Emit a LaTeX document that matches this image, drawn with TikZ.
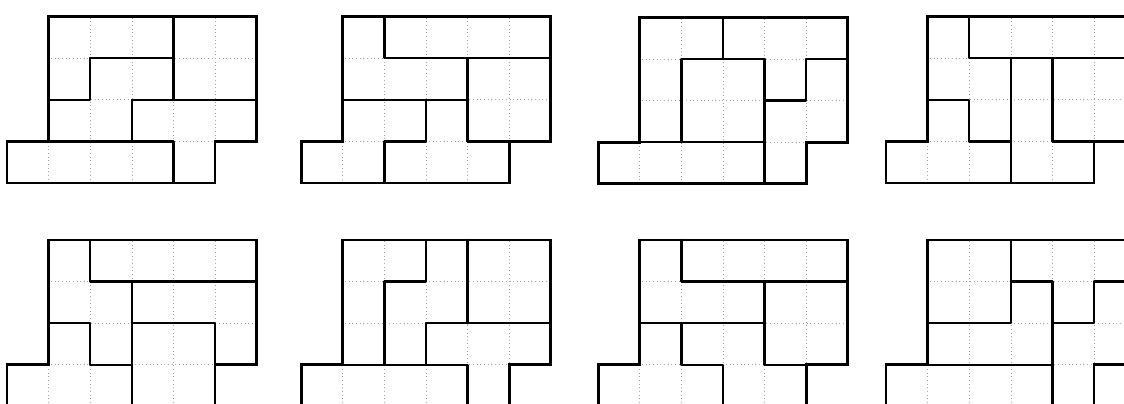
\documentclass[tikz,border=0pt]{standalone}
\usetikzlibrary{calc}

% staircase board: bottom row 0..5, upper rows 1..6
\newcommand{\stairboard}{%
  \begin{scope}
    \clip (0,0) -- (5,0) -- (5,1) -- (6,1) -- (6,4) -- (1,4) -- (1,1) -- (0,1) -- cycle;
    \draw[gridline] (0,0) grid (6,4);
  \end{scope}
  \draw[outline] (0,0) -- (5,0) -- (5,1) -- (6,1) -- (6,4) -- (1,4) -- (1,1) -- (0,1) -- cycle;
}

\begin{document}
\begin{tikzpicture}[
    outline/.style={draw=black, line width=1.9pt, line join=miter},
    piece/.style={draw=black, line width=1.6pt, line cap=round, line join=round},
    gridline/.style={draw=black!35, dotted, line width=0.5pt}
  ]
    \useasboundingbox (0,0) rectangle (27.02,9.688);
    \clip (0,0) rectangle (27.02,9.688);

    % top row
    \begin{scope}[shift={(0.17,5.29)}]
        \stairboard
        \draw[piece] (4,4) -- (4,2);
        \draw[piece] (1,2) -- (2,2) -- (2,3) -- (4,3);
        \draw[piece] (6,2) -- (3,2) -- (3,1);
        \draw[piece] (1,1) -- (4,1) -- (4,0);
    \end{scope}
    \begin{scope}[shift={(7.24,5.29)}]
        \stairboard
        \draw[piece] (2,4) -- (2,3) -- (6,3);
        \draw[piece] (1,2) -- (4,2);
        \draw[piece] (4,3) -- (4,1) -- (5,1);
        \draw[piece] (3,2) -- (3,1) -- (2,1) -- (2,0);
    \end{scope}
    \begin{scope}[shift={(14.38,5.27)}]
        \stairboard
        \draw[piece] (3,4) -- (3,3);
        \draw[piece] (2,1) -- (2,3) -- (4,3);
        \draw[piece] (1,1) -- (4,1);
        \draw[piece] (4,3) -- (4,0);
        \draw[piece] (4,2) -- (5,2) -- (5,3) -- (6,3);
    \end{scope}
    \begin{scope}[shift={(21.30,5.29)}]
        \stairboard
        \draw[piece] (2,4) -- (2,3) -- (6,3);
        \draw[piece] (3,3) -- (3,0);
        \draw[piece] (4,3) -- (4,1) -- (5,1);
        \draw[piece] (1,2) -- (2,2) -- (2,1) -- (3,1);
    \end{scope}

    % bottom row
    \begin{scope}[shift={(0.17,-0.08)}]
        \stairboard
        \draw[piece] (2,4) -- (2,3) -- (6,3);
        \draw[piece] (3,3) -- (3,0);
        \draw[piece] (1,2) -- (2,2) -- (2,1) -- (3,1);
        \draw[piece] (3,2) -- (5,2) -- (5,0);
    \end{scope}
    \begin{scope}[shift={(7.24,-0.08)}]
        \stairboard
        \draw[piece] (3,4) -- (3,3) -- (2,3) -- (2,1);
        \draw[piece] (4,4) -- (4,2);
        \draw[piece] (3,1) -- (3,2) -- (6,2);
        \draw[piece] (1,1) -- (4,1) -- (4,0);
    \end{scope}
    \begin{scope}[shift={(14.38,-0.08)}]
        \stairboard
        \draw[piece] (2,4) -- (2,3) -- (6,3);
        \draw[piece] (1,2) -- (4,2);
        \draw[piece] (4,3) -- (4,1) -- (5,1);
        \draw[piece] (2,2) -- (2,1) -- (3,1) -- (3,0);
    \end{scope}
    \begin{scope}[shift={(21.30,-0.08)}]
        \stairboard
        \draw[piece] (3,4) -- (3,2) -- (1,2);
        \draw[piece] (3,3) -- (4,3) -- (4,0);
        \draw[piece] (4,2) -- (5,2) -- (5,3) -- (6,3);
        \draw[piece] (1,1) -- (4,1);
    \end{scope}
\end{tikzpicture}
\end{document}
